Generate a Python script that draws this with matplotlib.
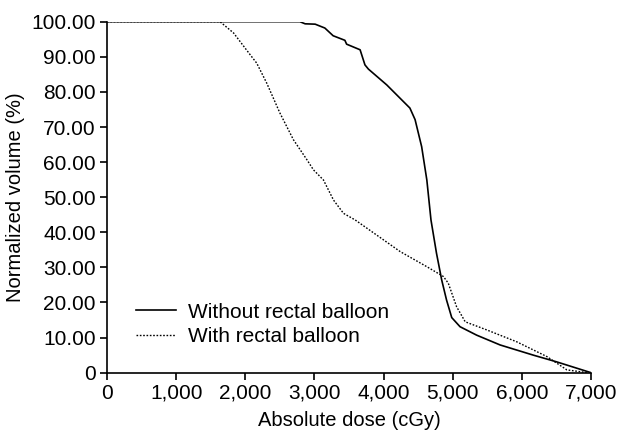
import matplotlib.pyplot as plt
from matplotlib.ticker import FuncFormatter

plt.rcParams['font.family'] = ['Liberation Sans', 'DejaVu Sans']

# dose-volume curves
dose_without = [0, 1000, 2000, 2790, 2865, 3010, 3150, 3270, 3440, 3465, 3660, 3730, 3780,
                4045, 4380, 4455, 4550, 4625, 4685, 4765, 4840, 4910, 4985, 5105,
                5345, 5685, 6165, 6500, 7000]
vol_without = [100, 100, 100, 100, 99.4, 99.3, 98.2, 96.0, 94.7, 93.6, 92.0, 87.7, 86.5,
               82.0, 75.4, 72.1, 64.4, 54.9, 43.5, 34.0, 26.4, 20.7, 15.7, 13.1,
               10.7, 7.9, 5.0, 3.1, 0]

dose_with = [0, 1000, 1635, 1830, 2070, 2165, 2310, 2500, 2695, 2890, 2985, 3130, 3275,
             3420, 3590, 4240, 4625, 4865, 4935, 5055, 5180, 5490, 5925, 6360, 6650, 6950]
vol_with = [100, 100, 100, 96.8, 90.6, 88.2, 82.5, 74.0, 66.4, 60.7, 57.8, 54.9, 49.2,
            45.4, 43.5, 34.5, 30.2, 27.4, 25.5, 18.8, 14.5, 12.2, 8.8, 4.6, 0.8, 0]

xticks = [0, 1000, 2000, 3000, 4000, 5000, 6000, 7000]
yticks = [0, 10, 20, 30, 40, 50, 60, 70, 80, 90, 100]

fig = plt.figure(figsize=(6.17, 4.43), dpi=100)
ax = fig.add_axes([0.1734, 0.1587, 0.7846, 0.7923])

ax.plot(dose_without, vol_without, color='black', lw=1.2, label='Without rectal balloon')
ax.plot(dose_with, vol_with, color='black', lw=1.0, linestyle=(0, (1.2, 1.2)),
        label='With rectal balloon')

ax.set_xlim(0, 7000)
ax.set_ylim(0, 100)
ax.set_xticks(xticks)
ax.set_yticks(yticks)
ax.xaxis.set_major_formatter(FuncFormatter(lambda v, p: '0' if v == 0 else f'{v:,.0f}'))
ax.yaxis.set_major_formatter(FuncFormatter(lambda v, p: '0' if v == 0 else f'{v:.2f}'))

for side in ['top', 'right']:
    ax.spines[side].set_visible(False)
for side in ['left', 'bottom']:
    ax.spines[side].set_linewidth(1.2)
ax.tick_params(direction='out', length=5, width=1.2, labelsize=15, pad=3)

ax.set_xlabel('Absolute dose (cGy)', fontsize=14.5, labelpad=6)
ax.set_ylabel('Normalized volume (%)', fontsize=14.5, labelpad=5)

ax.legend(loc='lower left', bbox_to_anchor=(0.03, 0.035), frameon=False, fontsize=15,
          handlelength=1.9, handletextpad=0.6, labelspacing=0.25, borderpad=0.2)

fig.savefig('out.png', dpi=100)
